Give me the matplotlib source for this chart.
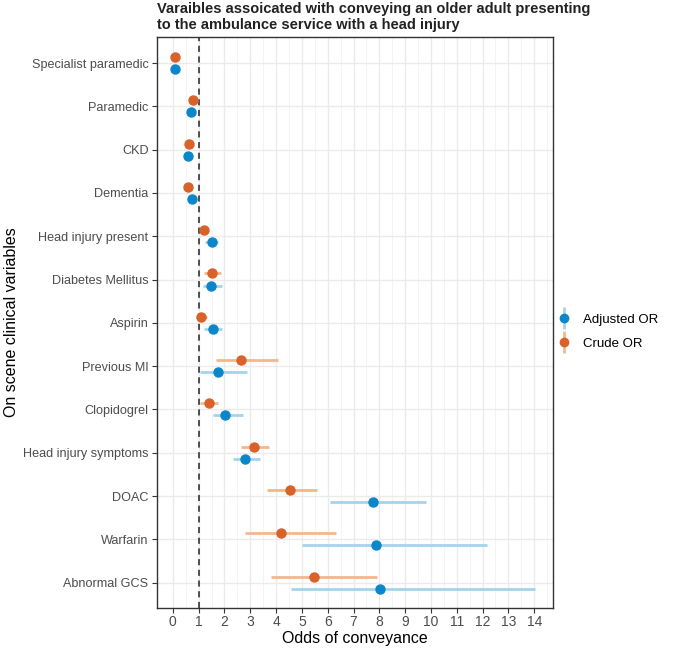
import matplotlib.pyplot as plt
from matplotlib.lines import Line2D
from matplotlib.legend_handler import HandlerTuple
import numpy as np

plt.rcParams['font.family'] = ['Liberation Sans', 'DejaVu Sans']

# categories, top to bottom
variables = ['Specialist paramedic', 'Paramedic', 'CKD', 'Dementia', 'Head injury present',
             'Diabetes Mellitus', 'Aspirin', 'Previous MI', 'Clopidogrel',
             'Head injury symptoms', 'DOAC', 'Warfarin', 'Abnormal GCS']

# adjusted odds ratios and 95% CI
adj_or = [0.08, 0.70, 0.59, 0.74, 1.50, 1.49, 1.54, 1.75, 2.03, 2.79, 7.74, 7.86, 8.02]
adj_lo = [0.05, 0.62, 0.50, 0.66, 1.25, 1.16, 1.22, 1.06, 1.54, 2.33, 6.08, 5.00, 4.56]
adj_hi = [0.12, 0.80, 0.70, 0.84, 1.76, 1.92, 1.92, 2.86, 2.70, 3.37, 9.79, 12.18, 14.04]

# crude odds ratios and 95% CI
crude_or = [0.09, 0.78, 0.62, 0.57, 1.19, 1.50, 1.10, 2.64, 1.39, 3.15, 4.54, 4.20, 5.46]
crude_lo = [0.06, 0.70, 0.50, 0.50, 1.08, 1.20, 0.90, 1.67, 1.06, 2.65, 3.64, 2.78, 3.81]
crude_hi = [0.12, 0.86, 0.75, 0.65, 1.30, 1.86, 1.31, 4.07, 1.73, 3.74, 5.60, 6.31, 7.92]

blue, blue_l = '#0b87c9', '#a3d4ec'
orange, orange_l = '#d9622b', '#f2b78c'

y = np.arange(len(variables), 0, -1)
dodge = 0.14

fig = plt.figure(figsize=(6.85, 6.5), dpi=100)
ax = fig.add_axes([0.229, 0.065, 0.578, 0.878])

# confidence intervals
ax.hlines(y - dodge, adj_lo, adj_hi, color=blue_l, lw=2, zorder=3)
ax.hlines(y + dodge, crude_lo, crude_hi, color=orange_l, lw=2, zorder=3)
ax.plot(adj_or, y - dodge, 'o', color=blue, ms=6.5, zorder=4)
ax.plot(crude_or, y + dodge, 'o', color=orange, ms=6.5, zorder=4)

ax.axvline(1, color='#222222', ls=(0, (4, 3)), lw=1.1, zorder=2)

ax.set_xlim(-0.62, 14.72)
ax.set_ylim(0.42, 13.6)
ax.set_xticks(range(0, 15))
ax.set_xticks(np.arange(0.5, 14.6, 1), minor=True)
ax.set_yticks(y)
ax.set_yticklabels(variables)
ax.grid(which='major', color='#ebebeb', lw=1.0, zorder=0)
ax.grid(which='minor', axis='x', color='#f2f2f2', lw=0.6, zorder=0)
ax.set_axisbelow(True)
ax.tick_params(which='minor', length=0)
ax.tick_params(which='major', length=3.5, color='#333333', labelcolor='#4d4d4d')
ax.tick_params(axis='y', labelsize=9.1, pad=2.5)
ax.tick_params(axis='x', labelsize=10, pad=2)
for s in ax.spines.values():
    s.set_color('#333333')
    s.set_linewidth(1.0)

ax.set_xlabel('Odds of conveyance', fontsize=11.5, labelpad=1)
ax.set_ylabel('On scene clinical variables', fontsize=11.5, labelpad=3)
ax.set_title('Varaibles assoicated with conveying an older adult presenting\n'
             'to the ambulance service with a head injury',
             loc='left', fontsize=10.5, fontweight='bold', color='#222222', pad=6)

h_adj = (Line2D([], [], color=blue_l, marker='|', ms=16, mew=2, ls='None'),
         Line2D([], [], color=blue, marker='o', ms=6, ls='None'))
h_crude = (Line2D([], [], color=orange_l, marker='|', ms=16, mew=2, ls='None'),
           Line2D([], [], color=orange, marker='o', ms=6, ls='None'))
fig.legend([h_adj, h_crude], ['Adjusted OR', 'Crude OR'],
           handler_map={tuple: HandlerTuple(ndivide=1)},
           loc='center left', bbox_to_anchor=(0.795, 0.49), frameon=False,
           fontsize=9.5, handlelength=1.2, labelspacing=0.9, handletextpad=0.8)

fig.savefig('out.png', dpi=100)
